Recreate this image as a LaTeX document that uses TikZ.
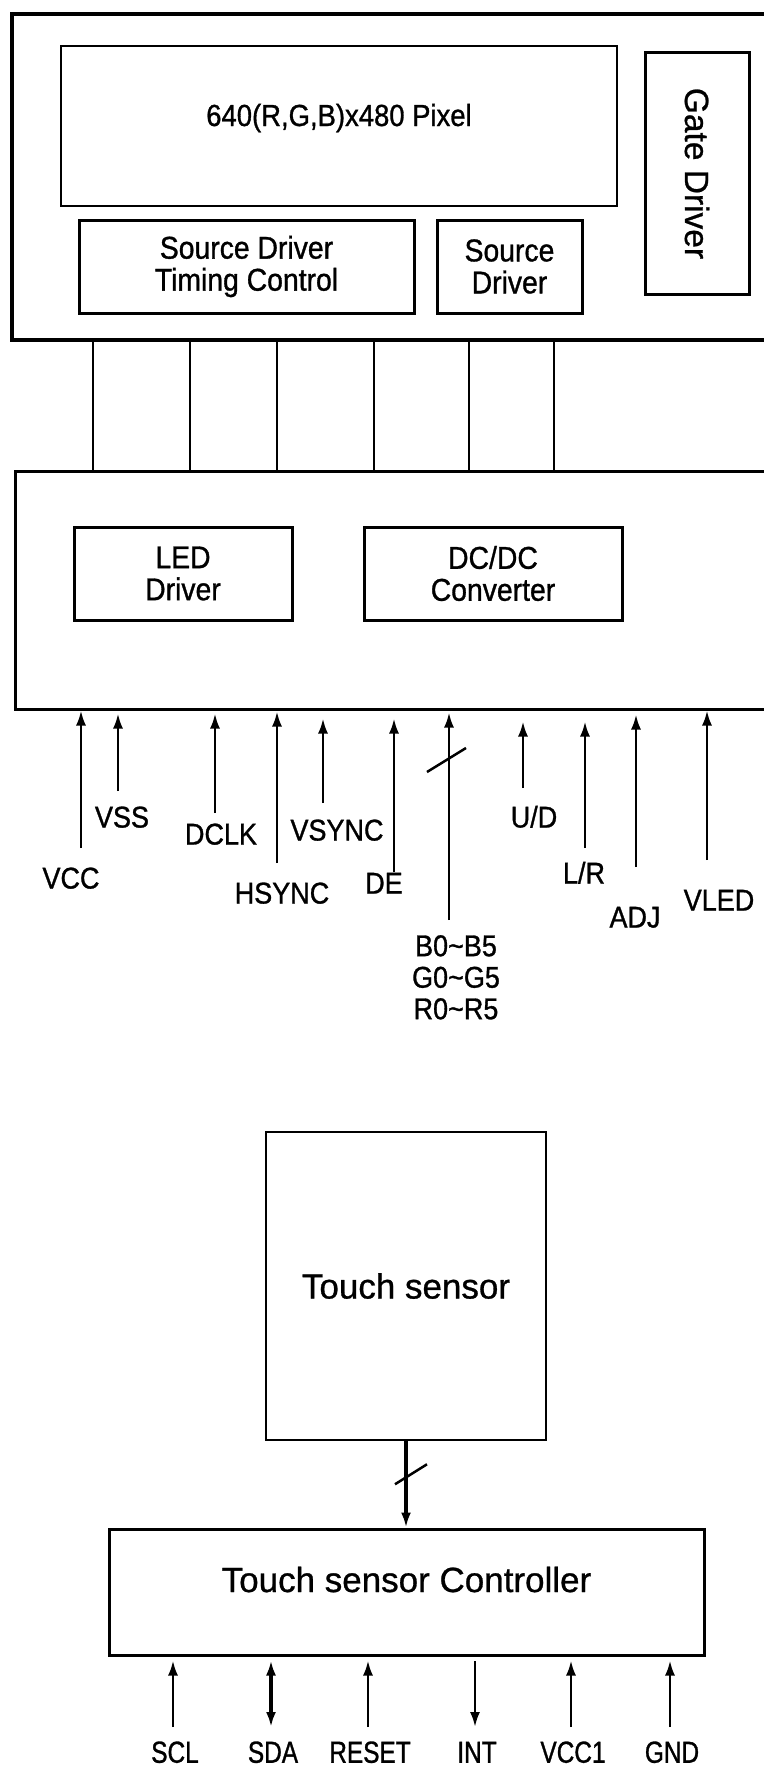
\documentclass[tikz,border=0pt]{standalone}
\usepackage{fontspec}
\setmainfont{Liberation Sans}[FakeBold=0.8]
\newfontfamily\condf[FakeStretch=0.9, FakeBold=1]{Liberation Sans}
\newfontfamily\tightf[FakeStretch=0.8, FakeBold=1]{Liberation Sans}
\usetikzlibrary{arrows.meta, positioning}
\newcommand\fsz[1]{\fontsize{#1}{#1}\selectfont}

\begin{document}
\begin{tikzpicture}[
  x=1pt, y=-1pt,
  >={Latex[length=15pt,width=10pt]},
  every node/.style={font=\condf\fontsize{30}{31.5}\selectfont, inner sep=0pt},
  blk/.style={draw, line width=3pt, align=center,
              font=\condf\fontsize{31.5}{32}\selectfont},
  lbl/.style={text height=21pt, text depth=0pt},
  bot/.style={font=\tightf\fsz{30.5}, text height=21.5pt, text depth=0pt},
  wire/.style={line width=2.5pt},
  arr/.style={->, line width=2.5pt},
  arrup/.style={->}, arrdn/.style={<-}, arrbi/.style={<->},
]
\useasboundingbox (0,0) rectangle (763,1769);

\node[draw, line width=4pt, minimum width=780pt, minimum height=326pt,
      anchor=north west] (lcd) at (10,12) {};
\node[draw, line width=2.5pt, minimum width=556pt, minimum height=160pt,
      text height=20pt, text depth=20pt, font=\condf\fsz{30.5}] (pix) at (339,126)
  {640(R,G,B)x480 Pixel};
\node[blk, minimum width=104pt, minimum height=241pt, font=\fsz{33.5}] (gate)
  at (697,173.5) {\rotatebox{-90}{Gate Driver}};
\node[blk, minimum width=335pt, minimum height=93pt] (sdtc) at (246.5,266.5)
  {Source Driver\\Timing Control};
\node[blk, minimum width=145pt, minimum height=93pt, right=20pt of sdtc] (src)
  {Source\\Driver};

\node[draw, line width=2.5pt, minimum width=780pt, minimum height=238pt,
      anchor=north west] (pcb) at (14,470) {};
\node[blk, minimum width=218pt, minimum height=93pt] (led) at (183,573.5)
  {LED\\Driver};
\node[blk, minimum width=258pt, minimum height=93pt, right=69pt of led] (dcdc)
  {DC/DC\\Converter};

\foreach \x in {93,190,277,374,469,554}
  \draw[wire] (\x,0 |- lcd.south) -- (\x,0 |- pcb.north);

\foreach \nm/\x/\y/\gap/\lx/\ly/\txt in {
    vcc/81/848/0/71/878/VCC, vss/118/791/3/122/817/VSS,
    dclk/215/813/3/221/834/DCLK, hsync/277/863/1/282/893/HSYNC,
    vsync/323/803/8/337/830/VSYNC, de/394/872/8/384/883/DE,
    ud/523/788/11/534/817/{U/D}, lr/585/848/11/584/873/{L/R},
    adj/636/867/4/635/917/ADJ, vled/707/860/0/719/900/VLED} {
  \draw[arr, shorten >=\gap pt] (\x,\y) coordinate (\nm) -- (\nm |- pcb.south);
  \node[lbl] (\nm-l) at (\lx,\ly) {\txt};
}

\draw[arr, shorten >=2pt] (449,920) coordinate (bus) -- (bus |- pcb.south);
\draw[wire] ([shift={(-22,-148)}]bus) -- ([shift={(17,-172)}]bus);
\node[anchor=north, align=center] (bus-l) at (456,935)
  {B0\textasciitilde B5\\G0\textasciitilde G5\\R0\textasciitilde R5};

\node[draw, line width=2.5pt, minimum width=280pt, minimum height=308pt,
      font=\fsz{35}] (touch) at (406,1286) {Touch sensor};
\node[draw, line width=3pt, minimum width=595pt, minimum height=126pt,
      text height=26pt, text depth=26pt, font=\fsz{35}] (tsc) at (406.5,1592)
  {Touch sensor Controller};
\draw[arr, line width=4.5pt] (touch.south) -- (touch.south |- tsc.north);
\draw[line width=2.5pt] ([shift={(-11,43)}]touch.south)
  -- ([shift={(21,23)}]touch.south);

\foreach \nm/\x/\dir/\lw/\txt in {scl/173/arrup/2.5/SCL, sda/271/arrbi/4/SDA,
    rst/368/arrup/2.5/RESET, int/475/arrdn/2.5/INT, vcc1/571/arrup/2.5/VCC1,
    gnd/670/arrup/2.5/GND} {
  \draw[\dir, line width=\lw pt, shorten >=4pt] (\x,1727) coordinate (\nm)
    -- (\nm |- tsc.south);
  \node[bot] (\nm-l) at (\x+2,1752) {\txt};
}
\end{tikzpicture}
\end{document}
